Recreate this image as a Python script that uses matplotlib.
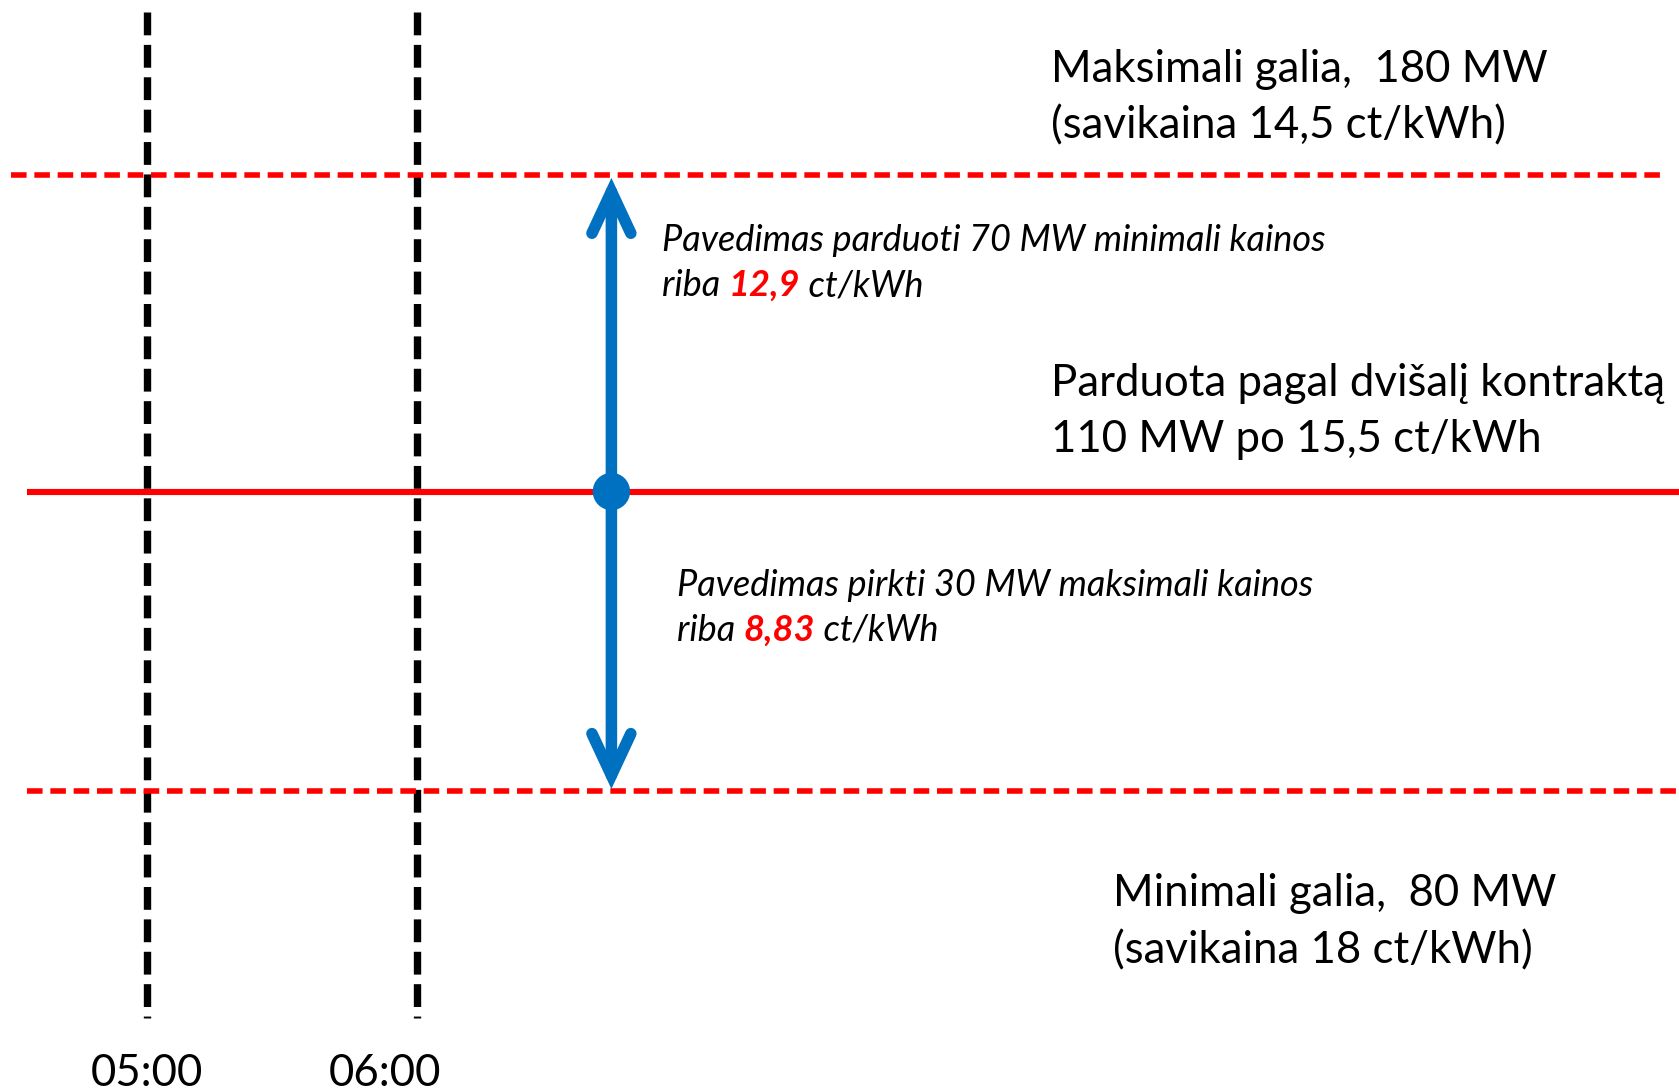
import matplotlib
matplotlib.use("Agg")
import matplotlib.pyplot as plt
from matplotlib.patches import Ellipse

# ---------------- data ----------------
times = [5, 6]                      # hours of the vertical markers
time_labels = ["05:00", "06:00"]
level_mw = [180, 110, 80]           # max power, contract, min power
level_cost = ["14,5", "15,5", "18"] # ct/kWh
sell_mw = 70
sell_price = "12,9"
buy_mw = 30
buy_price = "8,83"

# ---------------- layout ----------------
W, H = 1679, 1091
DPI = 100
PX_PER_H = 269.8
X0_PX = 146.7
def hx(px):
    return times[0] + (px - X0_PX) / PX_PER_H
level_y = {180: 174.5, 110: 491.5, 80: 791.0}
RED = "#FF0000"
BLUE = "#0070C0"
FONT = "Lato"

fig = plt.figure(figsize=(W / DPI, H / DPI), dpi=DPI)
ax = fig.add_axes([0, 0, 1, 1])
ax.set_xlim(hx(0), hx(W))
ax.set_ylim(H, 0)
ax.axis("off")

# vertical dashed time markers
for t in times:
    ax.plot([t, t], [12, 1018], color="black", lw=5.3,
            dashes=(3.1, 1.3), solid_capstyle="butt", dash_capstyle="butt")

# horizontal level lines
ax.plot([hx(11), hx(1662)], [level_y[180]] * 2, color=RED, lw=4.0,
        dashes=(2.8, 1.4))
ax.plot([hx(27), hx(W)], [level_y[110]] * 2, color=RED, lw=4.4,
        solid_capstyle="butt")
ax.plot([hx(27), hx(W)], [level_y[80]] * 2, color=RED, lw=4.0,
        dashes=(2.8, 1.4))

# double arrow
xa = hx(611.4)
ax.annotate("", xy=(xa, level_y[180]), xytext=(xa, level_y[80]),
            arrowprops=dict(arrowstyle="<->,head_length=30,head_width=14",
                            mutation_scale=1, lw=8.3, color=BLUE,
                            shrinkA=1.5, shrinkB=2.5, capstyle="round",
                            joinstyle="miter"))
# dot at contract level (circle in pixels)
sx = (W / (ax.get_xlim()[1] - ax.get_xlim()[0]))
ax.add_patch(Ellipse((xa, level_y[110]), width=36 / sx, height=36,
                     color=BLUE, zorder=5))

# ---------------- texts ----------------
big = dict(fontsize=31.5, family=FONT, color="black", va="center", ha="left")
ax.text(hx(1051), 69, f"Maksimali galia,  {level_mw[0]} MW", **big)
ax.text(hx(1051), 126, f"(savikaina {level_cost[0]} ct/kWh)", **big)
ax.text(hx(1051), 383, "Parduota pagal dvišalį kontraktą", **big)
ax.text(hx(1051), 440, f"{level_mw[1]} MW po {level_cost[1]} ct/kWh", **big)
ax.text(hx(1113), 893, f"Minimali galia,  {level_mw[2]} MW", **big)
ax.text(hx(1113), 951, f"(savikaina {level_cost[2]} ct/kWh)", **big)

lab_dx = [0, -32]
for t, lab, dx in zip(times, time_labels, lab_dx):
    ax.text(hx(X0_PX + (t - times[0]) * PX_PER_H + dx), 1073, lab, **{**big, "ha": "center"})

it = dict(fontsize=26, family=FONT, style="italic", color="black")

def rich_line(x, y, parts):
    prev = None
    for txt, col, bold in parts:
        kw = dict(fontsize=it["fontsize"], family=FONT, style="italic",
                  color=col, fontweight="bold" if bold else "normal",
                  va="baseline", ha="left")
        if prev is None:
            prev = ax.text(x, y, txt, **kw)
        else:
            prev = ax.annotate(txt, xy=(1, y), xycoords=(prev, "data"), **kw)

ax.text(hx(662), 251, f"Pavedimas parduoti {sell_mw} MW minimali kainos",
        va="baseline", ha="left", **it)
rich_line(hx(662), 296, [("riba ", "black", False), (sell_price, RED, True),
                         (" ct/kWh", "black", False)])
ax.text(hx(677), 596, f"Pavedimas pirkti {buy_mw} MW maksimali kainos",
        va="baseline", ha="left", **it)
rich_line(hx(677), 641, [("riba ", "black", False), (buy_price, RED, True),
                         (" ct/kWh", "black", False)])

fig.savefig("out.png", dpi=DPI)
